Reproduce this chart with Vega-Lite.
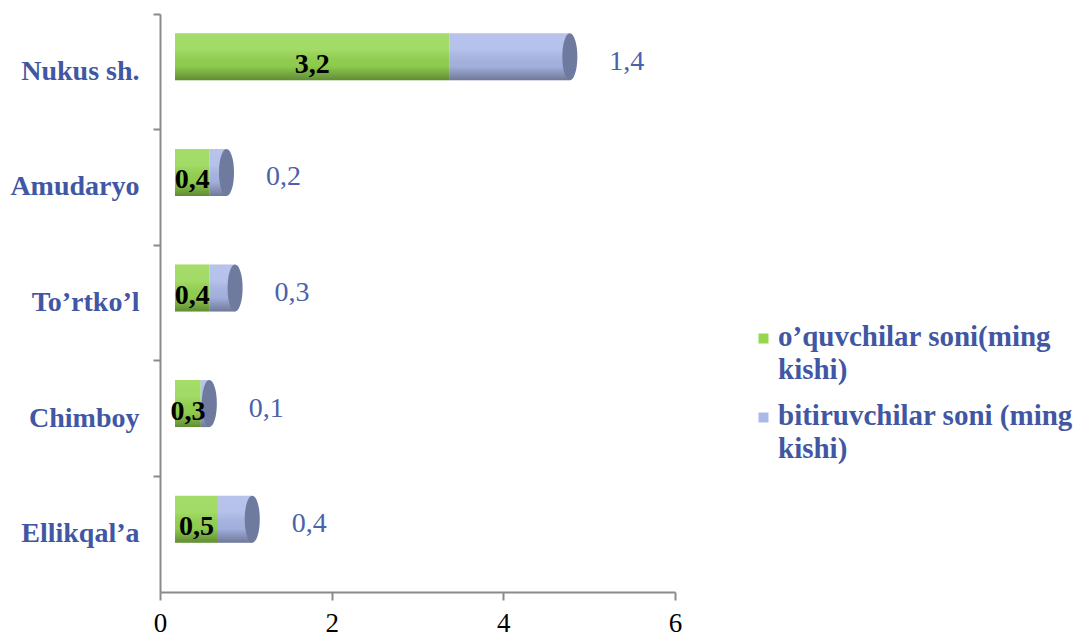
{
  "$schema": "https://vega.github.io/schema/vega-lite/v6.json",
  "width": 515,
  "height": 578,
  "autosize": {"type": "none"},
  "padding": {"left": 160, "top": 14, "right": 400, "bottom": 47},
  "background": "white",
  "config": {
    "view": {"stroke": null},
    "style": {"guide-label": {"lineHeight": 33}},
    "locale": {"number": {"decimal": ",", "thousands": " ", "grouping": [3], "currency": ["", ""]}}
  },
  "data": {
    "values": [
      {"cat": "Nukus sh.", "series": "o’quvchilar soni(ming kishi)", "order": 1, "value": 3.2},
      {"cat": "Nukus sh.", "series": "bitiruvchilar soni (ming kishi)", "order": 2, "value": 1.4},
      {"cat": "Amudaryo", "series": "o’quvchilar soni(ming kishi)", "order": 1, "value": 0.4},
      {"cat": "Amudaryo", "series": "bitiruvchilar soni (ming kishi)", "order": 2, "value": 0.2},
      {"cat": "To’rtko’l", "series": "o’quvchilar soni(ming kishi)", "order": 1, "value": 0.4},
      {"cat": "To’rtko’l", "series": "bitiruvchilar soni (ming kishi)", "order": 2, "value": 0.3},
      {"cat": "Chimboy", "series": "o’quvchilar soni(ming kishi)", "order": 1, "value": 0.3},
      {"cat": "Chimboy", "series": "bitiruvchilar soni (ming kishi)", "order": 2, "value": 0.1},
      {"cat": "Ellikqal’a", "series": "o’quvchilar soni(ming kishi)", "order": 1, "value": 0.5},
      {"cat": "Ellikqal’a", "series": "bitiruvchilar soni (ming kishi)", "order": 2, "value": 0.4}
    ]
  },
  "transform": [
    {"stack": "value", "groupby": ["cat"], "sort": [{"field": "order", "order": "ascending"}], "as": ["v0", "v1"]}
  ],
  "encoding": {
    "y": {
      "field": "cat",
      "type": "nominal",
      "sort": ["Nukus sh.", "Amudaryo", "To’rtko’l", "Chimboy", "Ellikqal’a"],
      "scale": {"paddingInner": 0, "paddingOuter": 0},
      "axis": {
        "title": null,
        "bandPosition": 0,
        "labelFont": "Liberation Serif",
        "labelFontWeight": "bold",
        "labelFontSize": 28,
        "labelColor": "#4157a3",
        "tickSize": 7,
        "tickWidth": 2,
        "tickColor": "#8a8a8a",
        "domainColor": "#8a8a8a",
        "domainWidth": 2,
        "labelPadding": 14
      }
    }
  },
  "layer": [
    {
      "mark": {"type": "bar", "size": 47, "yOffset": -15, "xOffset": 15, "x2Offset": 15},
      "encoding": {
        "x": {
          "field": "v0",
          "type": "quantitative",
          "scale": {"domain": [0, 6], "nice": false},
          "axis": {
            "title": null,
            "values": [0, 2, 4, 6],
            "format": "d",
            "grid": false,
            "labelFlush": false,
            "labelFont": "Liberation Serif",
            "labelFontSize": 27,
            "labelColor": "#000000",
            "tickSize": 8,
            "tickWidth": 2,
            "tickColor": "#8a8a8a",
            "domainColor": "#8a8a8a",
            "domainWidth": 2,
            "labelPadding": 10
          }
        },
        "x2": {"field": "v1"},
        "color": {
          "field": "series",
          "type": "nominal",
          "scale": {
            "domain": ["o’quvchilar soni(ming kishi)", "bitiruvchilar soni (ming kishi)"],
            "range": ["#95d651", "#abb9e8"]
          },
          "legend": {
            "orient": "none",
            "legendX": 589,
            "legendY": 317,
            "title": null,
            "symbolType": "M -1 -2.4 H 1 V -0.4 H -1 Z",
            "symbolSize": 100,
            "symbolStrokeWidth": 0,
            "labelFont": "Liberation Serif",
            "labelFontWeight": "bold",
            "labelFontSize": 29,
            "labelColor": "#4157a3",
            "labelLimit": 400,
            "labelOffset": 0,
            "labelBaseline": "alphabetic",
            "rowPadding": 16,
            "labelExpr": "datum.value == 'o’quvchilar soni(ming kishi)' ? ['o’quvchilar soni(ming', 'kishi)'] : ['bitiruvchilar soni (ming', 'kishi)']"
          }
        }
      }
    },
    {
      "mark": {
        "type": "bar",
        "size": 47,
        "yOffset": -15,
        "xOffset": 15,
        "x2Offset": 15,
        "fill": {
          "gradient": "linear",
          "x1": 0, "y1": 0, "x2": 0, "y2": 1,
          "stops": [
            {"offset": 0, "color": "rgba(255,255,255,0.15)"},
            {"offset": 0.35, "color": "rgba(255,255,255,0.12)"},
            {"offset": 0.7, "color": "rgba(0,0,0,0.05)"},
            {"offset": 1, "color": "rgba(0,0,0,0.35)"}
          ]
        }
      },
      "encoding": {
        "x": {"field": "v0", "type": "quantitative"},
        "x2": {"field": "v1"}
      }
    },
    {
      "transform": [{"filter": "datum.order == 2"}],
      "mark": {
        "type": "point",
        "shape": "M 0 -1 A 0.32 1 0 1 1 0 1 A 0.32 1 0 1 1 0 -1 Z",
        "filled": true,
        "fill": "#6e7a9e",
        "opacity": 1,
        "size": 2209,
        "yOffset": -15,
        "xOffset": 15
      },
      "encoding": {
        "x": {"field": "v1", "type": "quantitative"}
      }
    },
    {
      "transform": [
        {"filter": "datum.order == 1"},
        {"fold": ["v0", "v1"], "as": ["k", "pos"]},
        {"aggregate": [{"op": "mean", "field": "pos", "as": "mid"}], "groupby": ["cat", "value"]}
      ],
      "mark": {
        "type": "text",
        "font": "Liberation Serif",
        "fontWeight": "bold",
        "fontSize": 28,
        "color": "#000000",
        "dx": 15,
        "dy": -7
      },
      "encoding": {
        "x": {"field": "mid", "type": "quantitative"},
        "text": {"field": "value", "type": "quantitative", "format": ".1f"}
      }
    },
    {
      "transform": [{"filter": "datum.order == 2"}],
      "mark": {
        "type": "text",
        "font": "Liberation Serif",
        "fontSize": 28,
        "color": "#4a62ab",
        "dx": 72,
        "dy": -10
      },
      "encoding": {
        "x": {"field": "v1", "type": "quantitative"},
        "text": {"field": "value", "type": "quantitative", "format": ".1f"}
      }
    }
  ]
}
